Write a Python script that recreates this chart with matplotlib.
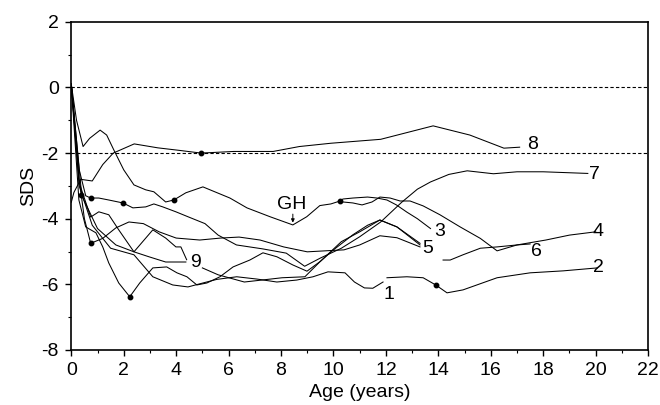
import matplotlib
matplotlib.use("Agg")
import matplotlib.pyplot as plt
from matplotlib.ticker import MultipleLocator

plt.rcParams['font.family'] = ['Liberation Sans', 'DejaVu Sans']
plt.rcParams['axes.unicode_minus'] = False

# growth curves (age in years, SDS)
curve_8_age = [0.0, 0.1, 0.36, 0.8, 1.2, 1.6, 2.4, 3.3, 4.15, 4.95, 6.2, 7.7, 8.7, 9.9, 11.8, 13.8, 15.2, 16.5, 17.1]
curve_8_sds = [-3.5, -3.2, -2.8, -2.85, -2.35, -2.0, -1.72, -1.84, -1.92, -2.0, -1.95, -1.95, -1.8, -1.7, -1.58, -1.17, -1.45, -1.85, -1.82]

curve_3_age = [0.0, 0.2, 0.45, 0.7, 1.1, 1.35, 1.62, 2.0, 2.39, 2.84, 3.15, 3.6, 3.91, 4.37, 5.02, 6.05, 6.7, 7.58, 8.45, 8.98, 9.48, 9.9, 10.25,
               10.36, 10.74, 11.3, 11.66, 12.04, 12.4, 12.8, 13.2, 13.7]
curve_3_sds = [0.1, -1.0, -1.8, -1.55, -1.3, -1.45, -1.9, -2.51, -2.97, -3.12, -3.18, -3.49, -3.43, -3.21, -3.03, -3.37, -3.67, -3.94, -4.19, -3.94, -3.6, -3.55, -3.46,
               -3.4, -3.37, -3.34, -3.37, -3.43, -3.58, -3.8, -4.0, -4.3]

curve_6_age = [10.25, 10.36, 10.74, 11.09, 11.47, 11.77, 12.16, 12.54, 12.92, 13.42, 14.06, 14.83, 15.6, 16.24, 17.0, 17.5]
curve_6_sds = [-3.46, -3.49, -3.52, -3.58, -3.49, -3.34, -3.37, -3.46, -3.46, -3.61, -3.88, -4.25, -4.6, -4.98, -4.8, -4.77]

curve_7_age = [0.0, 0.3, 0.55, 0.74, 1.05, 1.43, 1.97, 2.35, 2.84, 3.15, 3.49, 3.99, 4.48, 5.1, 5.6, 6.3, 7.3, 8.2, 8.9,
               9.5, 10.3, 11.0, 11.8, 12.6, 13.2, 13.7, 14.4, 15.1, 16.1, 17.0, 18.0, 19.7]
curve_7_sds = [0.1, -2.5, -3.3, -3.37, -3.37, -3.43, -3.52, -3.67, -3.64, -3.55, -3.64, -3.79, -3.95, -4.15, -4.5, -4.8, -4.92, -5.05, -5.45,
               -5.2, -4.9, -4.55, -4.1, -3.5, -3.1, -2.88, -2.65, -2.54, -2.63, -2.57, -2.57, -2.62]

curve_5_age = [0.0, 0.3, 0.5, 0.74, 1.2, 1.7, 2.2, 2.75, 3.35, 4.0, 4.9, 5.7, 6.4, 7.2, 8.1, 9.0, 9.9, 10.4, 11.0, 11.77, 12.42, 13.3]
curve_5_sds = [0.1, -2.8, -4.0, -4.75, -4.6, -4.28, -4.1, -4.15, -4.4, -4.59, -4.65, -4.59, -4.56, -4.65, -4.86, -5.01, -4.97, -4.95, -4.8, -4.52, -4.58, -4.86]

curve_d_age = [0.0, 0.29, 0.55, 0.94, 1.2, 1.43, 1.81, 2.23, 2.61, 3.11, 3.64, 4.03, 4.41, 4.79, 5.17, 5.67, 6.17, 6.81, 7.31, 7.84, 8.45, 8.99,
               9.5, 10.0, 10.74, 11.3, 11.77, 12.42, 13.3]
curve_d_sds = [0.1, -3.43, -4.25, -4.43, -4.86, -5.35, -5.96, -6.38, -5.96, -5.5, -5.47, -5.65, -5.77, -6.02, -5.96, -5.77, -5.47, -5.26, -5.04, -5.16, -5.41, -5.6,
               -5.3, -4.95, -4.49, -4.2, -4.04, -4.25, -4.8]

curve_1_age = [0.0, 0.3, 0.8, 1.5, 2.39, 3.11, 3.87, 4.45, 5.02, 5.55, 6.31, 7.08, 7.84, 8.6, 9.22, 9.79, 10.44, 10.8, 11.18, 11.5, 11.89]
curve_1_sds = [0.1, -3.0, -4.2, -4.9, -5.1, -5.77, -6.02, -6.08, -5.96, -5.85, -5.77, -5.84, -5.93, -5.87, -5.77, -5.62, -5.65, -5.93, -6.11, -6.12, -5.93]

curve_2_age = [12.04, 12.8, 13.42, 13.9, 14.33, 14.94, 16.24, 17.5, 18.76, 20.06]
curve_2_sds = [-5.8, -5.77, -5.8, -6.02, -6.26, -6.17, -5.8, -5.65, -5.59, -5.5]

curve_9_age = [0.0, 0.3, 0.74, 1.05, 1.43, 1.81, 2.39, 2.96, 3.6, 4.37]
curve_9_sds = [0.1, -2.9, -3.95, -3.79, -3.88, -4.34, -5.01, -5.16, -5.32, -5.32]
curve_9b_age = [5.0, 5.6, 6.6, 7.27, 8.04, 8.91, 9.5, 10.3, 11.0, 11.77, 12.42, 13.3]
curve_9b_sds = [-5.5, -5.71, -5.93, -5.87, -5.8, -5.77, -5.3, -4.7, -4.4, -4.04, -4.25, -4.75]

curve_x_age = [0.0, 0.4, 1.0, 1.7, 2.39, 3.11, 3.6, 3.99, 4.18, 4.4]
curve_x_sds = [0.1, -3.3, -4.3, -4.8, -5.01, -4.34, -4.59, -4.86, -4.86, -5.25]

curve_4_age = [14.18, 14.45, 14.94, 15.6, 16.24, 17.0, 18.1, 19.0, 20.0]
curve_4_sds = [-5.26, -5.26, -5.1, -4.9, -4.86, -4.8, -4.65, -4.5, -4.4]

dots_age = [4.95, 3.91, 10.25, 0.74, 1.97, 0.74, 2.23, 13.9, 0.36]
dots_sds = [-2.0, -3.43, -3.46, -3.37, -3.52, -4.75, -6.38, -6.02, -3.27]

labels = ['8', '7', '3', '5', '6', '4', '2', '1', '9']
label_age = [17.6, 19.95, 14.05, 13.6, 17.75, 20.1, 20.1, 12.1, 4.75]
label_sds = [-1.75, -2.65, -4.4, -4.9, -5.0, -4.4, -5.5, -6.3, -5.35]

fig = plt.figure(figsize=(6.6, 4.05), dpi=100)
ax = fig.add_axes([0.108, 0.136, 0.874, 0.81])

line_kw = dict(color='black', linewidth=0.75)
for a, s in [(curve_8_age, curve_8_sds), (curve_3_age, curve_3_sds), (curve_6_age, curve_6_sds),
             (curve_7_age, curve_7_sds), (curve_5_age, curve_5_sds), (curve_d_age, curve_d_sds),
             (curve_1_age, curve_1_sds), (curve_2_age, curve_2_sds), (curve_9_age, curve_9_sds),
             (curve_9b_age, curve_9b_sds), (curve_x_age, curve_x_sds), (curve_4_age, curve_4_sds)]:
    ax.plot(a, s, **line_kw)

ax.plot(dots_age, dots_sds, 'o', color='black', markersize=3.2)

ax.axhline(0, color='black', linestyle=(0, (3, 2)), linewidth=0.8)
ax.axhline(-2, color='black', linestyle=(0, (3, 2)), linewidth=0.8)

for t, a, s in zip(labels, label_age, label_sds):
    ax.text(a, s, t, fontsize=14, ha='center', va='center')

# GH start marker with small down arrow
ax.text(8.4, -3.58, 'GH', fontsize=14, ha='center', va='center')
ax.annotate('', xy=(8.45, -4.12), xytext=(8.45, -3.86),
            arrowprops=dict(arrowstyle='-|>', color='black', lw=0.7, mutation_scale=5,
                            shrinkA=0, shrinkB=0))

ax.set_xlim(0, 22)
ax.set_ylim(-8, 2)
ax.xaxis.set_major_locator(MultipleLocator(2))
ax.xaxis.set_minor_locator(MultipleLocator(1))
ax.yaxis.set_major_locator(MultipleLocator(2))
ax.yaxis.set_minor_locator(MultipleLocator(1))
ax.tick_params(which='major', direction='out', length=4, width=1, labelsize=14, pad=5)
ax.tick_params(which='minor', direction='out', length=2.5, width=0.8)
for sp in ax.spines.values():
    sp.set_linewidth(1.2)

ax.set_xlabel('Age (years)', fontsize=14, labelpad=3)
ax.set_ylabel('SDS', fontsize=14, labelpad=3)

fig.savefig('out.png', dpi=100)
